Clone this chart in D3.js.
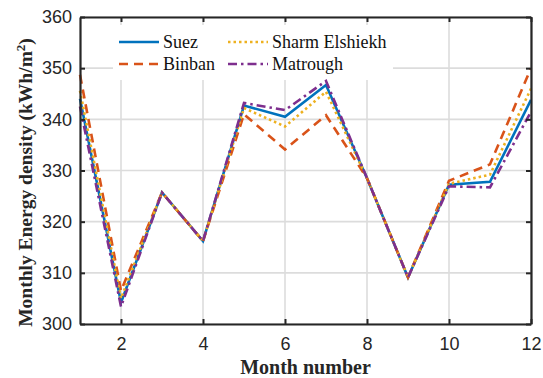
<!DOCTYPE html>
<html>
<head>
<meta charset="utf-8">
<script src="https://cdn.jsdelivr.net/npm/d3@7/dist/d3.min.js"></script>
<style>
  html, body { margin: 0; padding: 0; background: #fff; }
  svg { display: block; }
</style>
</head>
<body>
<script>
// Monthly energy density per site (kWh/m^2)
const months = [1, 2, 3, 4, 5, 6, 7, 8, 9, 10, 11, 12];
const suez       = [344.0, 304.2, 325.7, 316.2, 342.7, 340.5, 346.7, 328.5, 309.1, 327.2, 327.8, 343.8];
const binban     = [348.7, 306.5, 325.7, 316.2, 341.0, 334.1, 340.8, 328.5, 309.1, 328.0, 331.2, 350.0];
const sharm      = [345.6, 305.0, 325.7, 316.2, 342.2, 338.6, 345.4, 328.5, 309.1, 327.4, 329.2, 346.0];
const matrough   = [342.5, 303.4, 325.7, 316.2, 343.2, 341.8, 347.5, 328.5, 309.1, 326.9, 326.7, 341.5];
const seriesNames = ["Suez", "Binban", "Sharm Elshiekh", "Matrough"];
const xTicks = [2, 4, 6, 8, 10, 12];
const yTicks = [300, 310, 320, 330, 340, 350, 360];

const series = [
  { name: seriesNames[0], values: suez,     color: "#0072BD", dash: null },
  { name: seriesNames[1], values: binban,   color: "#D95319", dash: "9,6" },
  { name: seriesNames[2], values: sharm,    color: "#EDB120", dash: "2.5,3" },
  { name: seriesNames[3], values: matrough, color: "#7E2F8E", dash: "9,4,2.5,4" }
];

const W = 543, H = 378;
const m = { left: 80, top: 17, right: 12, bottom: 54 };
const iw = W - m.left - m.right, ih = H - m.top - m.bottom;

const svg = d3.select("body").append("svg").attr("width", W).attr("height", H);
const g = svg.append("g").attr("transform", `translate(${m.left},${m.top})`);

const x = d3.scaleLinear().domain([1, 12]).range([0, iw]);
const y = d3.scaleLinear().domain([300, 360]).range([ih, 0]);

// grid
g.append("g").selectAll("line.gx").data(xTicks).join("line")
  .attr("x1", d => x(d)).attr("x2", d => x(d)).attr("y1", 0).attr("y2", ih)
  .attr("stroke", "#dcdcdc").attr("stroke-width", 1.6);
g.append("g").selectAll("line.gy").data(yTicks).join("line")
  .attr("y1", d => y(d)).attr("y2", d => y(d)).attr("x1", 0).attr("x2", iw)
  .attr("stroke", "#dcdcdc").attr("stroke-width", 1.6);

// legend background (covers grid)
const leg = g.append("g").attr("transform", "translate(33,8)");
leg.append("rect").attr("x", 0).attr("y", 0).attr("width", 280).attr("height", 55).attr("fill", "#fff");

// lines
const line = d3.line().x((d, i) => x(months[i])).y(d => y(d));
series.forEach(s => {
  g.append("path").datum(s.values)
    .attr("d", line)
    .attr("fill", "none")
    .attr("stroke", s.color)
    .attr("stroke-width", 2.6)
    .attr("stroke-dasharray", s.dash)
    .attr("stroke-linejoin", "miter");
});

// axes
const axisFont = "'Liberation Sans', Arial, sans-serif";
const xAxis = g.append("g").attr("transform", `translate(0,${ih})`)
  .call(d3.axisBottom(x).tickValues(xTicks).tickSize(-5).tickPadding(13).tickSizeOuter(0));
const yAxis = g.append("g")
  .call(d3.axisLeft(y).tickValues(yTicks).tickSize(-5).tickPadding(8).tickSizeOuter(0));
g.append("g").call(d3.axisTop(x).tickValues(xTicks).tickSize(-5).tickFormat("").tickSizeOuter(0));
g.append("g").attr("transform", `translate(${iw},0)`)
  .call(d3.axisRight(y).tickValues(yTicks).tickSize(-5).tickFormat("").tickSizeOuter(0));
g.selectAll(".domain").attr("stroke", "#262626").attr("stroke-width", 2.2);
g.selectAll(".tick line").attr("stroke", "#262626").attr("stroke-width", 2);
g.selectAll(".tick text").attr("font-family", axisFont).attr("font-size", 18).attr("fill", "#262626");
xAxis.selectAll(".tick text").attr("dy", "0.71em");

// legend entries
const legFont = "'Liberation Serif', 'Times New Roman', serif";
series.forEach((s, i) => {
  const col = i === 0 || i === 1 ? 0 : 1;
  const row = i === 0 || i === 2 ? 0 : 1;
  const lx = 6 + col * 109, ly = 17 + row * 22;
  leg.append("line").attr("x1", lx).attr("x2", lx + 40).attr("y1", ly).attr("y2", ly)
    .attr("stroke", s.color).attr("stroke-width", 2.6).attr("stroke-dasharray", s.dash);
  leg.append("text").attr("x", lx + 44).attr("y", ly).attr("dy", "0.35em")
    .attr("font-family", legFont).attr("font-size", 18).attr("fill", "#111").text(s.name);
});

// axis titles
svg.append("text").attr("x", m.left + iw / 2).attr("y", 374)
  .attr("text-anchor", "middle").attr("font-family", legFont).attr("font-weight", "bold")
  .attr("font-size", 20).attr("fill", "#262626").text("Month number");

const yl = svg.append("text")
  .attr("transform", `translate(32,${m.top + ih / 2 + 12}) rotate(-90)`)
  .attr("text-anchor", "middle").attr("font-family", legFont).attr("font-weight", "bold")
  .attr("font-size", 19.5).attr("fill", "#262626");
yl.append("tspan").text("Monthly Energy density (kWh/m");
yl.append("tspan").attr("dy", -7).attr("font-size", 13).text("2");
yl.append("tspan").attr("dy", 7).text(")");
</script>
</body>
</html>
